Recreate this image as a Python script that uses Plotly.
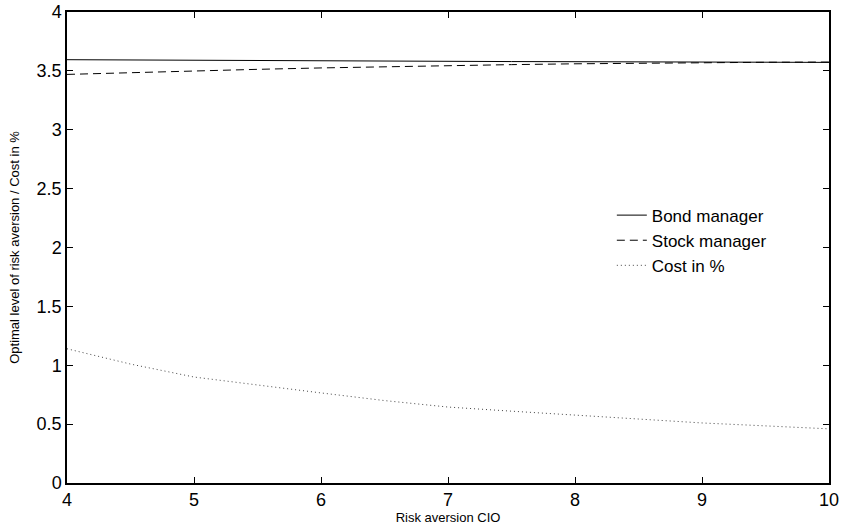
import plotly.graph_objects as go

x_vals = [4, 4.5, 5, 5.5, 6, 6.5, 7, 7.5, 8, 8.5, 9, 9.5, 10]
bond_manager = [3.595, 3.592, 3.590, 3.587, 3.585, 3.582, 3.580, 3.579, 3.578, 3.576, 3.575, 3.573, 3.572]
stock_manager = [3.470, 3.486, 3.500, 3.513, 3.525, 3.536, 3.545, 3.553, 3.560, 3.566, 3.570, 3.573, 3.575]
cost_pct = [1.14, 1.01, 0.90, 0.83, 0.765, 0.70, 0.645, 0.61, 0.575, 0.54, 0.51, 0.485, 0.46]

fig = go.Figure()
fig.add_trace(go.Scatter(x=x_vals, y=bond_manager, mode="lines", name="Bond manager",
                         line=dict(color="black", width=1, dash="solid")))
fig.add_trace(go.Scatter(x=x_vals, y=stock_manager, mode="lines", name="Stock manager",
                         line=dict(color="black", width=1, dash="8px,5px")))
fig.add_trace(go.Scatter(x=x_vals, y=cost_pct, mode="lines", name="Cost in %",
                         line=dict(color="#444444", width=1, dash="1px,3px")))

font_family = "Liberation Sans, Arial, Helvetica"
axis_common = dict(showline=True, linecolor="black", linewidth=1.5, mirror="ticks",
                   ticks="inside", ticklen=6, tickcolor="black", showgrid=False, zeroline=False,
                   automargin=False, ticklabeloverflow="allow",
                   tickfont=dict(family=font_family, size=18, color="black"))

fig.update_layout(
    width=842, height=529,
    margin=dict(l=67, r=13, t=12, b=46),
    paper_bgcolor="white", plot_bgcolor="white",
    xaxis=dict(range=[4, 10], tickvals=[4, 5, 6, 7, 8, 9, 10],
               title=dict(text="Risk aversion CIO", standoff=0,
                          font=dict(family=font_family, size=13, color="black")),
               **axis_common),
    yaxis=dict(range=[0, 4], tickvals=[0, 0.5, 1, 1.5, 2, 2.5, 3, 3.5, 4],
               ticktext=["0", "0.5", "1", "1.5", "2", "2.5", "3", "3.5", "4"],
               title=dict(text="Optimal level of risk aversion / Cost in %", standoff=14,
                          font=dict(family=font_family, size=13, color="black")),
               **axis_common),
    legend=dict(x=0.715, y=0.606, xanchor="left", yanchor="top", bgcolor="rgba(0,0,0,0)",
                font=dict(family=font_family, size=17, color="black"),
                tracegroupgap=0, itemwidth=30),
    showlegend=True,
)

fig.write_html("out.html", config={"displayModeBar": False},
               post_script="document.body.style.margin='0';")
